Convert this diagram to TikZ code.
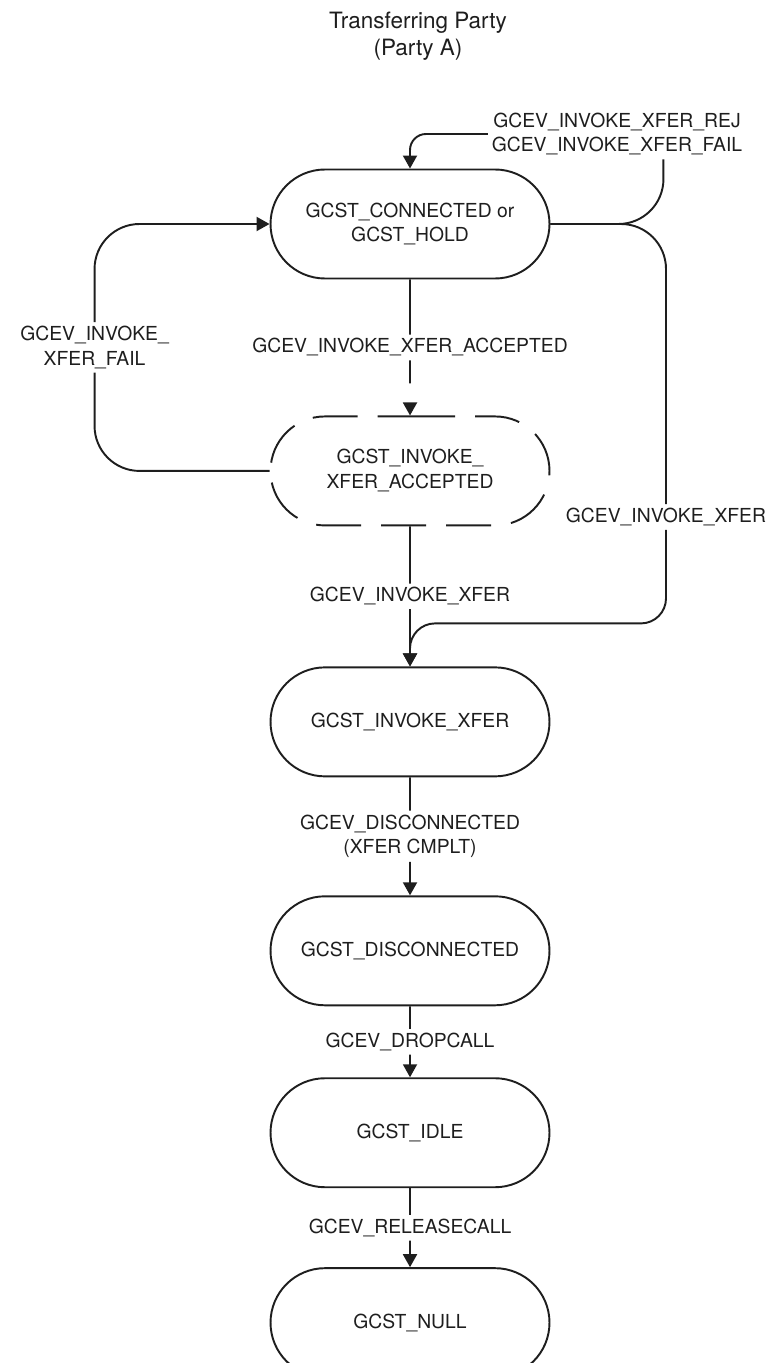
\documentclass[tikz,border=0pt]{standalone}
\usepackage{fontspec}
\setmainfont{TeX Gyre Heros}
\usepackage{xcolor}
\definecolor{clInk}{HTML}{1E1E1E}
\usetikzlibrary{arrows.meta,positioning,calc,shapes.misc}
\tikzset{
  callstate/.style={rounded rectangle, draw=clInk, line width=1.1pt, align=center,
              minimum width=5.72cm, minimum height=2.18cm, inner sep=2pt, text=clInk},
  pending/.style={callstate, dash pattern=on 0.9cm off 0.4cm},
  link/.style={line width=1.1pt, draw=clInk},
  trans/.style={link, -{Triangle[length=2.6mm,width=2.8mm]}},
  evlabel/.style={align=center, inner sep=2pt, text=clInk},
}
\begin{document}
\begin{tikzpicture}[every node/.style={font=\fontsize{11}{14.2}\selectfont}]
  \useasboundingbox (0,0) rectangle (15.3,-27.26);
  % title
  \node[font=\fontsize{12.8}{15.5}\selectfont, align=center, text=clInk] (title) at (8.36,-0.72) {Transferring Party\\(Party A)};

  % state column
  \node[callstate] (conn) at (8.2,-4.48) {GCST\_CONNECTED or\\GCST\_HOLD};
  \node[pending, below=2.72cm of conn] (acc) {GCST\_INVOKE\_\\XFER\_ACCEPTED};
  \node[callstate, below=2.8cm of acc] (xfer) {GCST\_INVOKE\_XFER};
  \node[callstate, below=2.36cm of xfer] (disc) {GCST\_DISCONNECTED};
  \node[callstate, below=1.42cm of disc] (idle) {GCST\_IDLE};
  \node[callstate, below=1.58cm of idle] (null) {GCST\_NULL};

  % event labels on the column
  \node[evlabel] (evacc) at ($(conn.south)!0.5!(acc.north)$) {GCEV\_INVOKE\_XFER\_ACCEPTED};
  \node[evlabel] (evxfer) at ($(acc.south)!0.5!(xfer.north)$) {GCEV\_INVOKE\_XFER};
  \node[evlabel] (evdisc) at ($(xfer.south)!0.5!(disc.north)$) {GCEV\_DISCONNECTED\\(XFER CMPLT)};
  \node[evlabel] (evdrop) at ($(disc.south)!0.5!(idle.north)$) {GCEV\_DROPCALL};
  \node[evlabel] (evrel) at ($(idle.south)!0.5!(null.north)$) {GCEV\_RELEASECALL};

  % side labels
  \coordinate (rcol) at ($(conn.east)+(2.26,0)$);
  \coordinate (lcol) at ($(conn.west)+(-3.5,0)$);
  \node[evlabel] (evrej) at (12.34,-2.68) {GCEV\_INVOKE\_XFER\_REJ\\GCEV\_INVOKE\_XFER\_FAIL};
  \node[evlabel] (evfail) at (lcol |- evacc) {GCEV\_INVOKE\_\\XFER\_FAIL};
  \node[evlabel] (evright) at (13.32,-10.34) {GCEV\_INVOKE\_XFER};

  % main column
  \draw[link] (conn) -- (evacc);
  \draw[trans, dash pattern=on 0.46cm off 2cm] (evacc) -- (acc);
  \draw[link] (acc) -- (evxfer);
  \draw[trans] (evxfer) -- (xfer);
  \draw[link] (xfer) -- (evdisc); \draw[trans] (evdisc) -- (disc);
  \draw[link] (disc) -- (evdrop); \draw[trans] (evdrop) -- (idle);
  \draw[link] (idle) -- (evrel); \draw[trans] (evrel) -- (null);
  % right side: rejected loop and direct transfer
  \draw[link, rounded corners=0.9cm] (conn.east) -| (evrej.south -| rcol);
  \draw[trans, rounded corners=0.32cm] (evrej.west) -| (conn.north);
  \draw[link, rounded corners=0.9cm] (conn.east) -| (evright.north);
  \draw[trans, rounded corners=0.5cm] (evright.south) |- ($(xfer.north)+(0,0.86)$) -- (xfer.north);
  % left side: failure back to connected
  \draw[link, rounded corners=0.9cm] (acc.west) -| (evfail.south);
  \draw[trans, rounded corners=0.9cm] (evfail.north) |- (conn.west);
\end{tikzpicture}
\end{document}
